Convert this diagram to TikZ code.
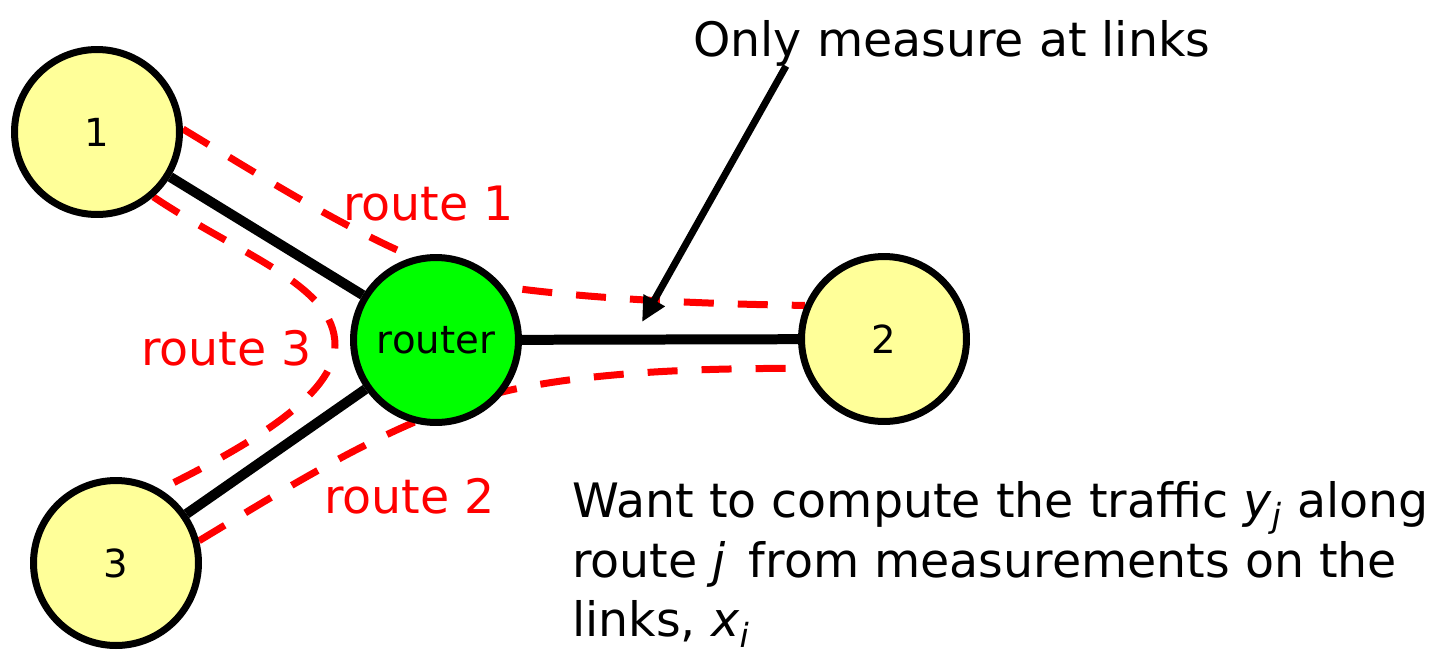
\documentclass[tikz,border=0pt]{standalone}
\usepackage{fontspec}
\setmainfont{DejaVu Sans}
\usetikzlibrary{arrows.meta, backgrounds}

\definecolor{hostyellow}{RGB}{255,255,153}
\definecolor{routergreen}{RGB}{0,255,0}

\begin{document}
\begin{tikzpicture}[
  x=0.02cm, y=-0.02cm,
  font=\fontsize{27}{34}\selectfont,
  host/.style={circle, draw, line width=0.14cm, fill=hostyellow, minimum size=3.3cm,
               inner sep=0pt, font=\fontsize{22}{26}\selectfont},
  rtr/.style={host, fill=routergreen},
  link/.style={line width=0.2cm},
  route/.style={draw=red, line width=0.14cm, dash pattern=on 0.6cm off 0.48cm},
  rlabel/.style={text=red, anchor=base west, inner sep=0pt},
  arr/.style={-{Triangle[length=0.5cm, width=0.46cm]}, line width=0.14cm},
]
\useasboundingbox (0,0) rectangle (1439,657);

% --- hosts and router ---
\node[host] (h1) at (97,132) {1};
\node[rtr]  (rt) at (436,340) {router};
\node[host] (h2) at (884,339) {2};
\node[host] (h3) at (116,563) {3};

% --- physical links and routes, under the nodes ---
\begin{scope}[on background layer]
  \draw[link] (h1) -- (rt);
  \draw[link] (rt) -- (h2);
  \draw[link] (rt) -- (h3);

  \draw[route] (h1.2) .. controls (300,200) and (420,276) .. (520,289)
                      .. controls (600,299) and (700,304) .. (h2.157);
  \draw[route] (h3.15) .. controls (300,480) and (410,410) .. (520,388)
                       .. controls (600,372) and (700,368) .. (h2.200);
  \draw[route] (h1.-49) .. controls (240,255) and (335,285) .. (335,345)
                        .. controls (335,395) and (250,445) .. (h3.59);
\end{scope}

% --- route labels ---
\node[rlabel] (r1) at (343,220) {route 1};
\node[rlabel] (r2) at (324,513) {route 2};
\node[rlabel] (r3) at (141,365) {route 3};

% --- notes ---
\node[anchor=base west, inner sep=0pt] (msg) at (693,56) {Only measure at links};
\coordinate (tail) at (786,66);
\coordinate (meas) at (642,322);
\draw[arr] (tail) -- (meas);

\node[anchor=north west, inner sep=0pt, align=left] (goal) at (572,481)
  {Want to compute the traffic \textit{y}\textsubscript{\textit{j}} along\\
   route \textit{j}\, from measurements on the\\
   links, \textit{x}\textsubscript{\textit{i}}};

\end{tikzpicture}
\end{document}
